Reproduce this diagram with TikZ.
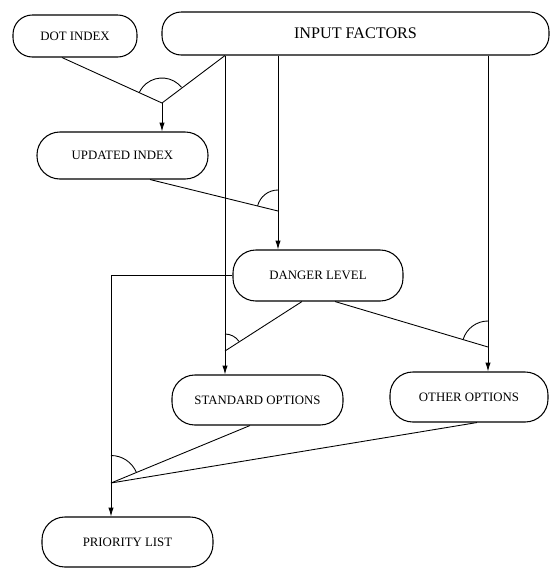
\documentclass[tikz,border=0pt]{standalone}
\usepackage{fontspec}
\setmainfont{Liberation Serif}
\usetikzlibrary{arrows.meta}

\begin{document}
\begin{tikzpicture}[
  box/.style={draw, rounded corners=13pt, align=center, line width=0.6pt,
    font=\fontsize{7.3}{8.6}\selectfont, minimum width=3.42cm, minimum height=1cm},
  link/.style={line width=0.5pt},
  arr/.style={link, -{Latex[length=5pt, width=3pt]}}
]
  \useasboundingbox (0,0) rectangle (11,-11.36);

  % Boxes
  \node[box, rounded corners=11pt, minimum width=2.48cm, minimum height=0.84cm] (dot) at (1.50,-0.72) {DOT INDEX};
  \node[box, rounded corners=11pt, minimum width=7.74cm, minimum height=0.86cm, font=\fontsize{9.2}{11}\selectfont] (input) at (7.11,-0.67) {INPUT FACTORS};
  \node[box, minimum height=0.94cm] (upd) at (2.45,-3.11) {UPDATED INDEX};
  \node[box, minimum width=3.40cm, minimum height=1.02cm] (danger) at (6.36,-5.51) {DANGER LEVEL};
  \node[box] (std) at (5.15,-8.00) {STANDARD OPTIONS};
  \node[box, minimum width=3.16cm] (other) at (9.38,-7.94) {OTHER OPTIONS};
  \node[box] (prio) at (2.55,-10.84) {PRIORITY LIST};

  % Junctions
  \coordinate (j1) at (3.24,-2.06);
  \coordinate (j2) at (5.56,-4.22);
  \coordinate (j3) at (4.50,-7.02);
  \coordinate (j4) at (9.76,-6.94);
  \coordinate (j5) at (2.22,-9.66);

  % Dot index + input factors -> updated index
  \draw[link] ([xshift=-0.26cm]dot.south) -- (j1);
  \draw[link] (input.south -| j3) -- (j1);
  \draw[arr] (j1) -- (j1 |- upd.north);
  \draw[link] ([shift={(38.7:0.5)}]j1) arc[start angle=38.7, end angle=155.3, radius=0.5];

  % Input factors down the page
  \draw[arr] (input.south -| j3) -- (j3 |- std.north);
  \draw[arr] (input.south -| j2) -- (j2 |- danger.north);
  \draw[arr] (input.south -| j4) -- (j4 |- other.north);

  % Updated index -> danger level
  \draw[link] ([xshift=0.55cm]upd.south) -- (j2);
  \draw[link] ([shift={(90:0.42)}]j2) arc[start angle=90, end angle=166, radius=0.42];

  % Danger level -> options
  \draw[link] ([xshift=-0.32cm]danger.south) -- (j3);
  \draw[link] ([shift={(34.2:0.34)}]j3) arc[start angle=34.2, end angle=90, radius=0.34];
  \draw[link] ([xshift=0.34cm]danger.south) -- (j4);
  \draw[link] ([shift={(90:0.52)}]j4) arc[start angle=90, end angle=162.9, radius=0.52];

  % Priority list
  \draw[arr] (danger.west) -- (danger.west -| j5) -- (j5 |- prio.north);
  \draw[link] ([xshift=-0.15cm]std.south) -- (j5);
  \draw[link] ([xshift=0.16cm]other.south) -- (j5);
  \draw[link] ([shift={(22.8:0.55)}]j5) arc[start angle=22.8, end angle=90, radius=0.55];
\end{tikzpicture}
\end{document}
